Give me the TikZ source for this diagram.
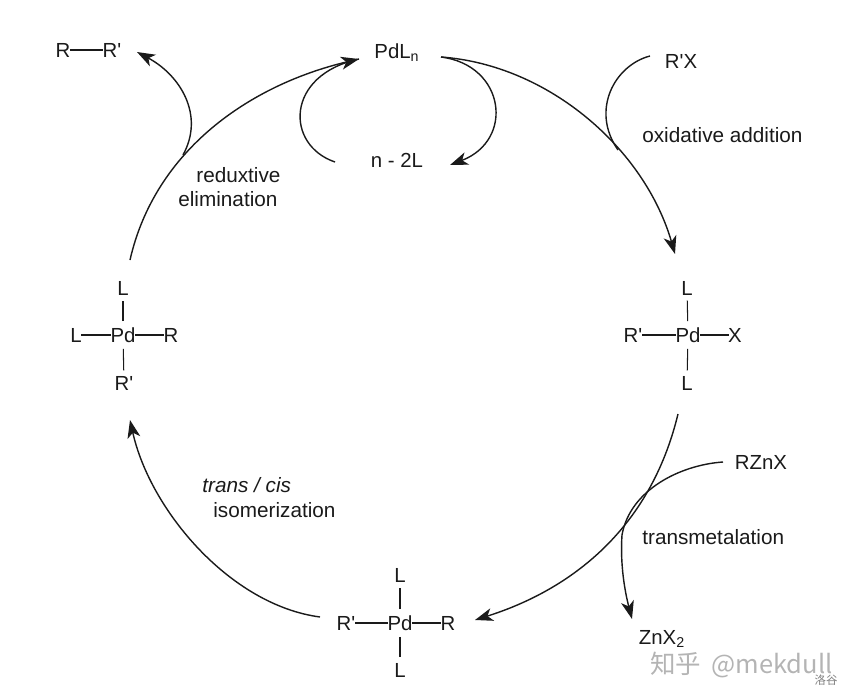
\documentclass[tikz,border=0pt]{standalone}
\usepackage{fontspec}
\setmainfont{Liberation Sans}
\newfontfamily\cjk{Noto Sans CJK SC}
\usetikzlibrary{arrows.meta,positioning}
\definecolor{cA}{HTML}{1a1a1a}
\definecolor{cW}{HTML}{b4b4b4}
\newcommand{\pr}{\textquotesingle}
\tikzset{
  atom/.style={inner sep=0pt,font=\fontsize{11.6}{13}\selectfont,text=cA},
  lab/.style={inner sep=0pt,align=left,font=\fontsize{11.8}{14.5}\selectfont,text=cA},
  bond/.style={cA,line width=.6pt,shorten >=-.5pt,shorten <=-.5pt},
  vbond/.style={cA,line width=.6pt,shorten >=3pt,shorten <=3.5pt},
  cyc/.style={-{Stealth[length=3.6mm,width=2.6mm,inset=1mm]},cA,line width=.8pt},
  side/.style={cA,line width=.8pt},
}
\begin{document}
\begin{tikzpicture}[x=.02cm,y=-.02cm]
  \useasboundingbox (0,0) rectangle (853,700);
  % catalyst
  \node[atom](pdl) at (397,53){PdL\textsubscript{n}};
  \node[atom](nl) at (397,160){n - 2L};
  \node[atom](rx) at (681,61){R\pr X};
  \node[atom](r) at (63,50){R};
  \node[atom](rp) at (112,50){R\pr};
  \draw[bond](r)--(rp);
  \node[atom](rzn) at (761,462){RZnX};
  \node[atom](zn) at (662,639){ZnX\textsubscript{2}};
  % right complex
  \node[atom](pa) at (688,335){Pd};
  \node[atom](pa1) at (687,288){L};
  \node[atom](pa2) at (687,383){L};
  \node[atom](pa3) at (633,335){R\pr};
  \node[atom](pa4) at (735,335){X};
  \draw[vbond](pa)--(pa1); \draw[vbond](pa)--(pa2);
  \draw[bond](pa)--(pa3); \draw[bond](pa)--(pa4);
  % bottom complex
  \node[atom](pb) at (400,623){Pd};
  \node[atom](pb1) at (400,575){L};
  \node[atom](pb2) at (400,670){L};
  \node[atom](pb3) at (346,623){R\pr};
  \node[atom](pb4) at (448,623){R};
  \draw[vbond](pb)--(pb1); \draw[vbond](pb)--(pb2);
  \draw[bond](pb)--(pb3); \draw[bond](pb)--(pb4);
  % left complex
  \node[atom](pc) at (123,335){Pd};
  \node[atom](pc1) at (123,288){L};
  \node[atom](pc2) at (124,383){R\pr};
  \node[atom](pc3) at (76,335){L};
  \node[atom](pc4) at (171,335){R};
  \draw[vbond](pc)--(pc1); \draw[vbond](pc)--(pc2);
  \draw[bond](pc)--(pc3); \draw[bond](pc)--(pc4);
  % labels
  \node[lab,anchor=west](oa) at (642,135){oxidative addition};
  \node[lab,anchor=west](tm) at (642,537){transmetalation};
  \node[lab,anchor=west](ti) at (202,485){\itshape trans / cis};
  \node[lab,anchor=west](is) at (213,510){isomerization};
  \node[lab,anchor=west](re) at (196,175){reduxtive};
  \node[lab,anchor=west](el) at (178,199){elimination};
  % free ends
  \coordinate(a1) at (441,57);
  \coordinate(a2) at (675,254);
  \coordinate(b1) at (678,414);
  \coordinate(b2) at (475,620);
  \coordinate(c1) at (320,617);
  \coordinate(c2) at (130,420);
  \coordinate(d1) at (130,260);
  \coordinate(d2) at (359,59);
  \coordinate(e0) at (650,56);
  \coordinate(e1) at (618,150);
  \coordinate(f0) at (723,462);
  \coordinate(f1) at (622,535);
  \coordinate(f2) at (632,619);
  \coordinate(g1) at (183,155);
  \coordinate(g2) at (137,52);
  \coordinate(h1) at (335,162);
  \coordinate(h2) at (450,165);
  % main cycle
  \draw[cyc](a1) .. controls (550,65) and (645,150) .. (a2);
  \draw[cyc](b1) .. controls (650,530) and (570,590) .. (b2);
  \draw[cyc](c1) .. controls (230,605) and (150,510) .. (c2);
  \draw[cyc](d1) .. controls (155,150) and (250,85) .. (d2);
  % side arms
  \draw[side](e0) .. controls (615,65) and (590,110) .. (e1);
  \draw[side](f0) .. controls (680,465) and (630,490) .. (f1);
  \draw[cyc](f1) .. controls (620,565) and (625,592) .. (f2);
  \draw[cyc](g1) .. controls (205,115) and (180,75) .. (g2);
  \draw[side](h1) .. controls (285,145) and (285,75) .. (d2);
  \draw[cyc](a1) .. controls (505,65) and (515,140) .. (h2);
  % watermark
  \node[inner sep=0pt,text=cW,font=\cjk\fontsize{14.5}{15}\selectfont,anchor=west](wm) at (650,665){知乎\hspace{.4em}@mekdull};
  \node[inner sep=0pt,text=gray,font=\cjk\fontsize{6.5}{8}\selectfont](lg) at (826,680){洛谷};
\end{tikzpicture}
\end{document}
